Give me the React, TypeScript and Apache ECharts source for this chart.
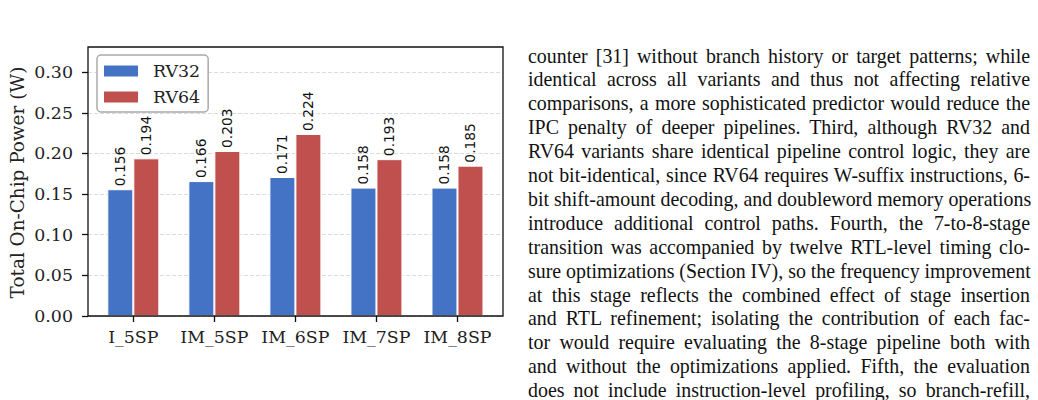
import React, { useEffect, useRef } from "react";
import * as echarts from "echarts";

// Per-variant total on-chip power (W)
const categories = ["I_5SP", "IM_5SP", "IM_6SP", "IM_7SP", "IM_8SP"];
const rv32Power = [0.156, 0.166, 0.171, 0.158, 0.158];
const rv64Power = [0.194, 0.203, 0.224, 0.193, 0.185];
const yTicks = [0, 0.05, 0.1, 0.15, 0.2, 0.25, 0.3];
const yMax = 0.331;
const yTitle = "Total On-Chip Power (W)";

// Body text set beside the figure, one entry per justified line
const paragraphLines = [
  "counter [31] without branch history or target patterns; while",
  "identical across all variants and thus not affecting relative",
  "comparisons, a more sophisticated predictor would reduce the",
  "IPC penalty of deeper pipelines. Third, although RV32 and",
  "RV64 variants share identical pipeline control logic, they are",
  "not bit-identical, since RV64 requires W-suffix instructions, 6-",
  "bit shift-amount decoding, and doubleword memory operations",
  "introduce additional control paths. Fourth, the 7-to-8-stage",
  "transition was accompanied by twelve RTL-level timing clo-",
  "sure optimizations (Section IV), so the frequency improvement",
  "at this stage reflects the combined effect of stage insertion",
  "and RTL refinement; isolating the contribution of each fac-",
  "tor would require evaluating the 8-stage pipeline both with",
  "and without the optimizations applied. Fifth, the evaluation",
  "does not include instruction-level profiling, so branch-refill,",
];

const SERIF = "'DejaVu Serif', serif";
const SANS = "'DejaVu Sans', sans-serif";
const BLUE = "#4472C4";
const RED = "#C0504D";

// plot frame (axes box) in pixels
const FRAME = { left: 88, top: 47, right: 503, bottom: 316 };

function PowerChart() {
  const ref = useRef<HTMLDivElement>(null);

  useEffect(() => {
    if (!ref.current) return;
    const chart = echarts.init(ref.current, undefined, { renderer: "svg" });

    const valueLabel = {
      show: true,
      position: "top" as const,
      rotate: 90,
      align: "left" as const,
      verticalAlign: "middle" as const,
      distance: 3,
      fontFamily: SANS,
      fontSize: 13.8,
      color: "#111",
      formatter: (p: any) => Number(p.value).toFixed(3),
    };

    chart.setOption({
      animation: false,
      backgroundColor: "#fff",
      grid: [
        // y axis and grid lines across the whole frame
        { left: FRAME.left, right: 1038 - FRAME.right, top: FRAME.top, bottom: 400 - FRAME.bottom },
        // category band for the bars
        { left: 92.8, right: 540, top: FRAME.top, bottom: 400 - FRAME.bottom },
      ],
      graphic: [
        {
          type: "rect",
          z: 100,
          silent: true,
          shape: {
            x: FRAME.left,
            y: FRAME.top,
            width: FRAME.right - FRAME.left,
            height: FRAME.bottom - FRAME.top,
          },
          style: { fill: "none", stroke: "#111", lineWidth: 1.3 },
        },
        {
          type: "text",
          x: 17,
          y: (FRAME.top + FRAME.bottom) / 2 + 1,
          rotation: Math.PI / 2,
          silent: true,
          style: {
            text: yTitle,
            fontFamily: SERIF,
            fontSize: 18.4,
            fill: "#222",
            align: "center",
            verticalAlign: "middle",
          },
        },
      ],
      legend: {
        orient: "vertical",
        left: 97,
        top: 55,
        z: 110,
        padding: [7, 8, 6, 7],
        itemWidth: 34,
        itemHeight: 11,
        itemGap: 8,
        icon: "rect",
        backgroundColor: "#fff",
        borderColor: "#aaa",
        borderWidth: 1.5,
        borderRadius: 4,
        itemStyle: { borderWidth: 0 },
        textStyle: { fontFamily: SERIF, fontSize: 17.4, color: "#222", lineHeight: 18, padding: [0, 0, 0, 10] },
        data: ["RV32", "RV64"],
      },
      xAxis: [
        { type: "category", gridIndex: 0, data: categories, show: false },
        {
          type: "category",
          gridIndex: 1,
          data: categories,
          axisLine: { show: false },
          axisTick: { show: true, alignWithLabel: true, interval: 0, length: 6, lineStyle: { color: "#111", width: 1.3 } },
          axisLabel: { fontFamily: SERIF, fontSize: 17.4, color: "#222", margin: 12, interval: 0, hideOverlap: false },
        },
      ],
      yAxis: [
        {
          type: "value",
          gridIndex: 0,
          min: 0,
          max: yMax,
          axisLine: { show: false },
          axisTick: { show: true, length: 6, customValues: yTicks, lineStyle: { color: "#111", width: 1.3 } },
          axisLabel: {
            fontFamily: SERIF,
            fontSize: 17.4,
            color: "#222",
            margin: 15,
            customValues: yTicks,
            formatter: (v: number) => v.toFixed(2),
          },
          splitLine: { show: true, lineStyle: { color: "#dcdcdc", width: 1, type: [4, 2] } },
        },
        { type: "value", gridIndex: 1, min: 0, max: yMax, show: false, splitLine: { show: false } },
      ],
      series: [
        {
          name: "RV32",
          type: "bar",
          xAxisIndex: 1,
          yAxisIndex: 1,
          data: rv32Power,
          barWidth: 26,
          barGap: "0%",
          itemStyle: { color: BLUE, borderColor: "#fff", borderWidth: 1 },
          label: valueLabel,
        },
        {
          name: "RV64",
          type: "bar",
          xAxisIndex: 1,
          yAxisIndex: 1,
          data: rv64Power,
          barWidth: 26,
          barGap: "0%",
          itemStyle: { color: RED, borderColor: "#fff", borderWidth: 1 },
          label: valueLabel,
        },
      ],
    });

    return () => chart.dispose();
  }, []);

  return <div ref={ref} style={{ position: "absolute", left: 0, top: 0, width: 1038, height: 400 }} />;
}

export default function App() {
  return (
    <div style={{ position: "fixed", left: 0, top: 0, width: 1038, height: 400, background: "#fff", overflow: "hidden" }}>
      <PowerChart />
      <div
        style={{
          position: "absolute",
          left: 528,
          top: 44.5,
          width: 502,
          fontFamily: "'Liberation Serif', 'Times New Roman', serif",
          fontSize: 19.9,
          lineHeight: "23.9px",
          color: "#111",
        }}
      >
        {paragraphLines.map((line, i) => (
          <div key={i} style={{ textAlign: "justify", textAlignLast: "justify", whiteSpace: "nowrap" }}>
            {line}
          </div>
        ))}
      </div>
    </div>
  );
}
